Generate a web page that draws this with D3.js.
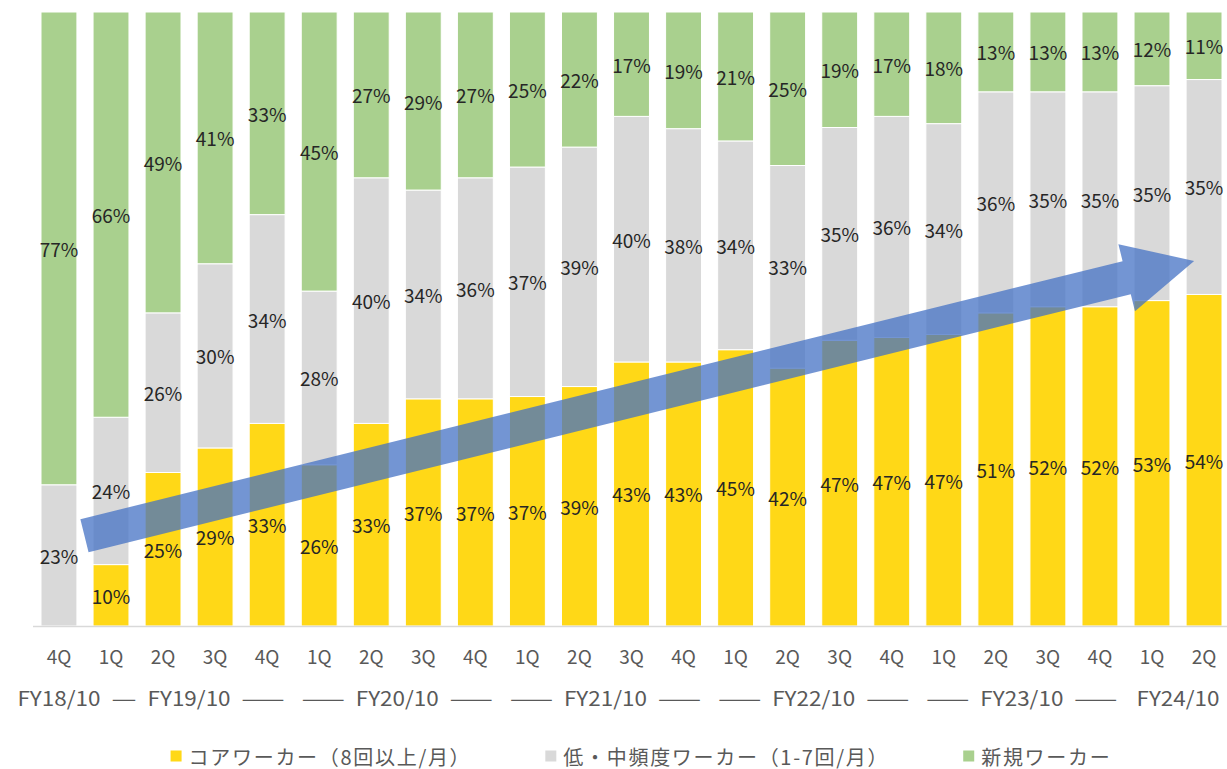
<!DOCTYPE html>
<html>
<head>
<meta charset="utf-8">
<script src="https://cdn.jsdelivr.net/npm/d3@7"></script>
<style>
  html, body { margin: 0; padding: 0; background: #fff; }
  svg { display: block; font-family: "Noto Sans CJK JP", "Noto Sans", sans-serif; }
</style>
</head>
<body>
<svg id="chart" width="1227" height="769"></svg>
<script>
// ---- data ----
const quarters = ["4Q","1Q","2Q","3Q","4Q","1Q","2Q","3Q","4Q","1Q","2Q","3Q","4Q","1Q","2Q","3Q","4Q","1Q","2Q","3Q","4Q","1Q","2Q"];
const coreWorkers = [0,10,25,29,33,26,33,37,37,37,39,43,43,45,42,47,47,47,51,52,52,53,54];
const midWorkers  = [23,24,26,30,34,28,40,34,36,37,39,40,38,34,33,35,36,34,36,35,35,35,35];
const newWorkers  = [77,66,49,41,33,45,27,29,27,25,22,17,19,21,25,19,17,18,13,13,13,12,11];
const seriesNames = ["コアワーカー（8回以上/月）", "低・中頻度ワーカー（1-7回/月）", "新規ワーカー"];
const fiscalYears = ["FY18/10","FY19/10","FY20/10","FY21/10","FY22/10","FY23/10","FY24/10"];
const fiscalFirstQ = [0,1,5,9,13,17,21];
const fiscalLastQ  = [0,4,8,12,16,20,22];
const fiscalLeftDash  = ["","—","——","——","——","——",""];
const fiscalRightDash = ["","——","——","——","——","——",""];
// trend arrow (quarter index, share)
const arrowFrom = [0.49, 0.147];
const arrowTo   = [21.81, 0.5945];

// ---- layout ----
const W = 1227, H = 769;
const colors = ["#FFD817", "#D9D9D9", "#A9D08E"];
const keys = ["core", "mid", "fresh"];
const rows = quarters.map((q, i) => ({ idx: i, q, core: coreWorkers[i], mid: midWorkers[i], fresh: newWorkers[i] }));

const svg = d3.select("#chart");
const x = d3.scaleBand().domain(d3.range(quarters.length)).range([41, 1222]).paddingInner(0.31).paddingOuter(0);
const y = d3.scaleLinear().domain([0, 1]).range([626, 12]);
const xc = d3.scaleLinear().domain([0, quarters.length - 1])
  .range([x(0) + x.bandwidth() / 2, x(quarters.length - 1) + x.bandwidth() / 2]);

const stack = d3.stack().keys(keys).offset(d3.stackOffsetExpand);
const series = stack(rows);

// bars
const g = svg.append("g");
series.forEach((s, si) => {
  g.append("g").selectAll("rect").data(s).join("rect")
    .attr("x", d => x(d.data.idx))
    .attr("width", x.bandwidth())
    .attr("y", d => y(d[1]))
    .attr("height", d => Math.max(0, y(d[0]) - y(d[1])))
    .attr("fill", colors[si])
    .attr("stroke", "#fff")
    .attr("stroke-width", 1);
});

// baseline
svg.append("line").attr("x1", 33).attr("x2", W).attr("y1", y(0) + 0.5).attr("y2", y(0) + 0.5)
  .attr("stroke", "#D9D9D9").attr("stroke-width", 1.5);

// data labels
series.forEach((s, si) => {
  g.append("g").selectAll("text").data(s.filter(d => d.data[keys[si]] > 0)).join("text")
    .attr("x", d => x(d.data.idx) + x.bandwidth() / 2)
    .attr("y", d => (y(d[0]) + y(d[1])) / 2)
    .attr("text-anchor", "middle")
    .attr("dominant-baseline", "central")
    .attr("font-size", 19)
    .attr("fill", "#262626")
    .text(d => d.data[keys[si]] + "%");
});

// category axis (quarters)
const xAxis = d3.axisBottom(x).tickFormat(i => quarters[i]).tickSize(0).tickPadding(0);
const ax = svg.append("g").attr("transform", `translate(0,655)`).call(xAxis);
ax.select(".domain").remove();
ax.selectAll("text").attr("font-size", 19).attr("fill", "#595959")
  .attr("font-family", "'Noto Sans CJK JP', sans-serif")
  .attr("dy", null).attr("y", 0).attr("dominant-baseline", "central");

// fiscal year row
const fyG = svg.append("g");
const fyW = 83, dashGap = 11;
fiscalYears.forEach((fy, k) => {
  const cx = (xc(fiscalFirstQ[k]) + xc(fiscalLastQ[k])) / 2;
  fyG.append("text").attr("x", cx).attr("y", 697)
    .attr("text-anchor", "middle").attr("dominant-baseline", "central")
    .attr("font-size", 20).attr("fill", "#595959")
    .attr("textLength", fyW).attr("lengthAdjust", "spacingAndGlyphs").text(fy);
  const dashLen = s => s.length === 1 ? 25 : 43;
  if (fiscalLeftDash[k]) {
    const dl = dashLen(fiscalLeftDash[k]);
    fyG.append("text").attr("x", cx - fyW / 2 - dashGap - dl).attr("y", 697)
      .attr("text-anchor", "start").attr("dominant-baseline", "central")
      .attr("font-size", 20).attr("fill", "#595959")
      .attr("textLength", dl).attr("lengthAdjust", "spacingAndGlyphs").text(fiscalLeftDash[k]);
  }
  if (fiscalRightDash[k]) {
    const dl = dashLen(fiscalRightDash[k]);
    fyG.append("text").attr("x", cx + fyW / 2 + dashGap).attr("y", 697)
      .attr("text-anchor", "start").attr("dominant-baseline", "central")
      .attr("font-size", 20).attr("fill", "#595959")
      .attr("textLength", dl).attr("lengthAdjust", "spacingAndGlyphs").text(fiscalRightDash[k]);
  }
});

// trend arrow
const x0 = xc(arrowFrom[0]), y0 = y(arrowFrom[1]);
const x1 = xc(arrowTo[0]), y1 = y(arrowTo[1]);
const L = Math.hypot(x1 - x0, y1 - y0);
const ang = Math.atan2(y1 - y0, x1 - x0) * 180 / Math.PI;
const shaft = 17, head = 34.5, headLen = 69.5;
const pts = [[0, -shaft], [L - headLen, -shaft], [L - headLen, -head], [L, 0], [L - headLen, head], [L - headLen, shaft], [0, shaft]];
svg.append("path")
  .attr("d", d3.line()(pts) + "Z")
  .attr("transform", `translate(${x0},${y0}) rotate(${ang})`)
  .attr("fill", "#4472C4").attr("fill-opacity", 0.75);

// legend
const lg = svg.append("g");
const legY = 756;
const items = seriesNames.map((n, i) => {
  const it = lg.append("g");
  it.append("rect").attr("x", 0).attr("y", legY - 5.5).attr("width", 11).attr("height", 11).attr("fill", colors[i]);
  const t = it.append("text").attr("x", 18).attr("y", legY).attr("dominant-baseline", "central")
    .attr("font-size", 20).attr("letter-spacing", 1.7).attr("fill", "#595959").text(n);
  return { it, w: 18 + t.node().getComputedTextLength() };
});
const gap = 74;
const total = d3.sum(items, d => d.w) + gap * (items.length - 1);
let cur = 641 - total / 2;
items.forEach(d => { d.it.attr("transform", `translate(${cur},0)`); cur += d.w + gap; });
</script>
</body>
</html>
